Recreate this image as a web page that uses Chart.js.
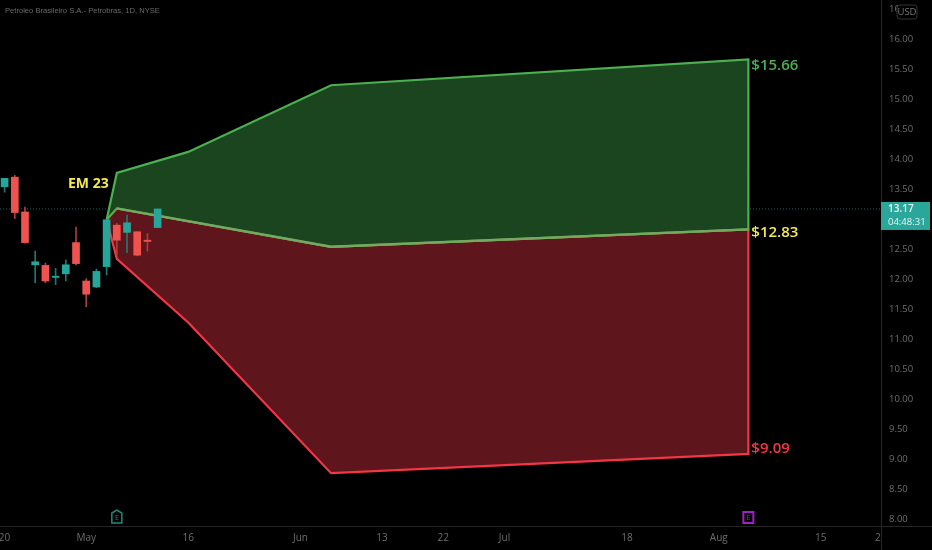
<!DOCTYPE html>
<html>
<head>
<meta charset="utf-8">
<title>PBR expected move</title>
<script src="https://cdn.jsdelivr.net/npm/chart.js@4"></script>
<style>
  html, body { margin: 0; padding: 0; background: #000; }
  canvas { display: block; }
</style>
</head>
<body>
<canvas id="chart" width="932" height="550"></canvas>
<script>
// x values are trading-bar numbers, first visible candle = 0
const candleBars = [0, 1, 2, 3, 4, 5, 6, 7, 8, 9, 10, 11, 12, 13, 14, 15];
const opens =  [13.54, 13.70, 13.12, 12.24, 12.23, 12.03, 12.09, 12.61, 11.97, 11.87, 12.21, 12.90, 12.78, 12.79, 12.65, 12.86];
const closes = [13.68, 13.11, 12.61, 12.29, 11.97, 12.05, 12.24, 12.26, 11.75, 12.13, 12.99, 12.65, 12.94, 12.40, 12.63, 13.17];
const highs =  [13.68, 13.73, 13.20, 12.47, 12.27, 12.18, 12.32, 12.87, 12.01, 12.17, 12.99, 12.93, 13.07, 12.79, 12.76, 13.17];
const lows =   [13.45, 13.01, 12.60, 11.94, 11.94, 11.91, 11.97, 12.24, 11.54, 11.86, 12.07, 12.40, 12.44, 12.39, 12.47, 12.86];

// cone outline: top edge, then the split line back to the start
const upperX = [10, 11, 18, 32, 72.9, 72.9];
const upperY = [12.99, 13.77, 14.12, 15.23, 15.66, 12.83];
const lowerX = [10, 11, 18, 32, 72.9, 72.9];
const lowerY = [12.99, 12.34, 11.28, 8.77, 9.09, 12.83];
const midX = [32, 11, 10];
const midY = [12.54, 13.18, 12.99];
const splitX = [11, 32, 72.9];
const splitY = [13.18, 12.54, 12.83];

const lastPrice = 13.17;
const yTicks = [8, 8.5, 9, 9.5, 10, 10.5, 11, 11.5, 12, 12.5, 13, 13.5, 14, 14.5, 15, 15.5, 16, 16.5];
const xTickBars = [0, 8, 18, 29, 37, 43, 49, 61, 70, 80, 85.6];
const xTickLabels = ['20', 'May', '16', 'Jun', '13', '22', 'Jul', '18', 'Aug', '15', '2'];
const priceLabels = ['$15.66', '$12.83', '$9.09'];
const priceLabelValues = [15.66, 12.83, 9.09];
const priceLabelColors = ['#4caf50', '#f5ea4f', '#f23645'];

const UP = '#26a69a', DOWN = '#ef5350', TICKS = '#6e6e6e', AXIS = '#262626';

const pairs = (xs, ys) => xs.map((x, i) => ({ x, y: ys[i] }));
const candleColors = candleBars.map((b, i) => closes[i] >= opens[i] ? UP : DOWN);
const wickColors = candleBars.map((b, i) => closes[i] >= opens[i] ? '#1d7a71' : '#a8403e');

const overlay = {
    id: 'overlay',
    afterDraw(chart) {
        const { ctx, scales: { x, y }, chartArea } = chart;
        ctx.save();

        // axis lines run on to the window edges
        ctx.strokeStyle = AXIS;
        ctx.lineWidth = 1;
        ctx.beginPath();
        ctx.moveTo(chartArea.right, chartArea.bottom + 0.5);
        ctx.lineTo(932, chartArea.bottom + 0.5);
        ctx.moveTo(chartArea.right + 0.5, chartArea.bottom);
        ctx.lineTo(chartArea.right + 0.5, 550);
        ctx.stroke();

        ctx.textBaseline = 'middle';
        ctx.textAlign = 'left';
        ctx.fillStyle = '#6b6b6b';
        ctx.font = '7.6px "Liberation Sans"';
        ctx.fillText('Petroleo Brasileiro S.A.- Petrobras, 1D, NYSE', 5, 11);

        // price callouts at the right end of the cone
        ctx.font = '600 15px "Open Sans"';
        priceLabels.forEach((t, i) => {
            ctx.fillStyle = priceLabelColors[i];
            ctx.fillText(t, x.getPixelForValue(72.9) + 3, y.getPixelForValue(priceLabelValues[i]) + (i === 0 ? 6 : i === 1 ? 3 : -5));
        });

        ctx.fillStyle = '#f5ea4f';
        ctx.font = '700 14px "Open Sans"';
        ctx.fillText('EM 23', 68, 184);

        // last price tag
        const tagY = y.getPixelForValue(lastPrice);
        ctx.fillStyle = '#2aa79b';
        ctx.fillRect(chartArea.right, tagY - 7, 49, 28);
        ctx.fillStyle = '#e8f5f3';
        ctx.font = '600 10px "Open Sans"';
        ctx.fillText('13.17', chartArea.right + 7, tagY);
        ctx.font = '9.5px "Open Sans"';
        ctx.fillText('04:48:31', chartArea.right + 7, tagY + 13);

        // currency box
        ctx.fillStyle = '#000';
        ctx.strokeStyle = '#333';
        ctx.beginPath();
        ctx.roundRect(897, 5, 20, 14, 3);
        ctx.fill();
        ctx.stroke();
        ctx.fillStyle = '#777';
        ctx.font = '9.5px "Open Sans"';
        ctx.textAlign = 'center';
        ctx.fillText('USD', 907, 12);

        // earnings markers
        const e1 = x.getPixelForValue(11), e2 = x.getPixelForValue(72.9);
        ctx.strokeStyle = '#1f8a7d';
        ctx.lineWidth = 1.5;
        ctx.beginPath();
        ctx.moveTo(e1 - 5, 513);
        ctx.lineTo(e1, 510);
        ctx.lineTo(e1 + 5, 513);
        ctx.lineTo(e1 + 5, 523);
        ctx.lineTo(e1 - 5, 523);
        ctx.closePath();
        ctx.stroke();
        ctx.fillStyle = '#1f8a7d';
        ctx.font = '7px "Open Sans"';
        ctx.fillText('E', e1, 518);

        ctx.strokeStyle = '#a21fc4';
        ctx.lineWidth = 2;
        ctx.strokeRect(e2 - 5, 512, 10, 11);
        ctx.fillStyle = '#a21fc4';
        ctx.fillText('E', e2, 518);
        ctx.restore();
    }
};

new Chart(document.getElementById('chart'), {
    data: {
        datasets: [
            { type: 'bar', label: 'bodies', order: 1, grouped: false, barThickness: 7, minBarLength: 1,
              data: candleBars.map((b, i) => ({ x: b, y: [opens[i], closes[i]] })), backgroundColor: candleColors },
            { type: 'bar', label: 'wicks', order: 2, grouped: false, barThickness: 1,
              data: candleBars.map((b, i) => ({ x: b, y: [lows[i], highs[i]] })), backgroundColor: wickColors },
            { type: 'scatter', label: 'split', order: 3, showLine: true, pointRadius: 0, borderWidth: 2.5, borderColor: '#75a860',
              data: pairs(splitX, splitY) },
            { type: 'scatter', label: 'up', order: 4, showLine: true, pointRadius: 0, borderWidth: 2.2, borderColor: '#4caf50',
              backgroundColor: '#1b451f', fill: 'shape', data: pairs(upperX.concat(midX), upperY.concat(midY)) },
            { type: 'scatter', label: 'down', order: 5, showLine: true, pointRadius: 0, borderWidth: 2.2, borderColor: '#f23645',
              backgroundColor: '#5e151b', fill: 'shape', data: pairs(lowerX.concat(midX), lowerY.concat(midY)) },
            { type: 'scatter', label: 'last', order: 6, showLine: true, pointRadius: 0, borderWidth: 1, borderColor: '#1d5f58',
              borderDash: [1, 2], data: pairs([-0.45, 85.9], [lastPrice, lastPrice]) }
        ]
    },
    options: {
        responsive: false,
        animation: false,
        layout: { padding: 0 },
        plugins: { legend: { display: false }, tooltip: { enabled: false } },
        scales: {
            x: {
                type: 'linear', min: -0.45, max: 85.9, offset: false,
                grid: { display: false, drawTicks: false },
                border: { color: AXIS },
                afterBuildTicks: s => { s.ticks = xTickBars.map(v => ({ value: v })); },
                afterFit: s => { s.height = 24; s.paddingLeft = 0; s.paddingRight = 0; },
                ticks: {
                    autoSkip: false, maxRotation: 0, color: TICKS, padding: 6,
                    font: { family: 'Open Sans', size: 10 },
                    callback: (v, i) => xTickLabels[i]
                }
            },
            y: {
                type: 'linear', position: 'right', min: 7.89, max: 16.65,
                grid: { display: false, drawTicks: false },
                border: { color: AXIS },
                afterBuildTicks: s => { s.ticks = yTicks.map(v => ({ value: v })); },
                afterFit: s => { s.width = 51; s.paddingTop = 0; s.paddingBottom = 0; },
                ticks: {
                    autoSkip: false, color: TICKS, padding: 8,
                    font: { family: 'Open Sans', size: 9.5 },
                    callback: v => v.toFixed(2)
                }
            }
        }
    },
    plugins: [overlay]
});
</script>
</body>
</html>
